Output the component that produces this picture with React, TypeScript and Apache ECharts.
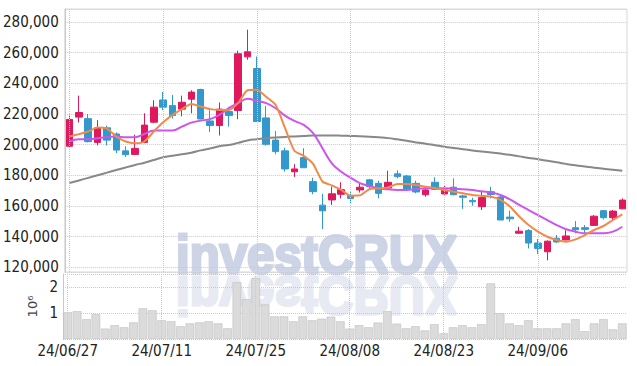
import React, { useEffect, useRef } from "react";
import * as echarts from "echarts";

const dates = [
  "24/06/27", "24/06/28", "24/07/01", "24/07/02", "24/07/03", "24/07/04", "24/07/05", "24/07/08", "24/07/09", "24/07/10",
  "24/07/11", "24/07/12", "24/07/15", "24/07/16", "24/07/17", "24/07/18", "24/07/19", "24/07/22", "24/07/23", "24/07/24",
  "24/07/25", "24/07/26", "24/07/29", "24/07/30", "24/07/31", "24/08/01", "24/08/02", "24/08/05", "24/08/06", "24/08/07",
  "24/08/08", "24/08/09", "24/08/12", "24/08/13", "24/08/14", "24/08/16", "24/08/19", "24/08/20", "24/08/21", "24/08/22",
  "24/08/23", "24/08/26", "24/08/27", "24/08/28", "24/08/29", "24/08/30", "24/09/02", "24/09/03", "24/09/04", "24/09/05",
  "24/09/06", "24/09/09", "24/09/10", "24/09/11", "24/09/12", "24/09/13", "24/09/19", "24/09/20", "24/09/23", "24/09/24",
];

const opens = [
  199000, 218000, 217000, 201500, 211000, 207000, 196000, 193700, 201500, 214700,
  229200, 225500, 223200, 229700, 236000, 215500, 212500, 221600, 222300, 257300,
  249700, 217500, 203000, 196000, 182400, 191600, 175900, 160600, 164000, 167700,
  166900, 170500, 177100, 174800, 171700, 181000, 179600, 174800, 167400, 175500,
  167900, 172300, 166600, 163700, 159600, 169300, 165900, 152800, 142300, 144000,
  135900, 130200, 139000, 137900, 145900, 145900, 147400, 157000, 152400, 158200,
];
const closes = [
  216500, 221000, 202000, 211000, 203000, 196500, 193500, 197600, 212800, 224500,
  224500, 219000, 227700, 234300, 216800, 212500, 223200, 219000, 259300, 260600,
  215100, 200300, 195500, 184200, 184200, 185000, 169400, 156900, 168000, 170700,
  165000, 172300, 172600, 168300, 175500, 179200, 170900, 169200, 170500, 170900,
  170500, 167400, 165700, 162800, 165500, 167500, 150900, 151700, 143600, 135900,
  132400, 137100, 136600, 140500, 144600, 144800, 153400, 152400, 156700, 163900,
];
const lows = [
  198000, 214500, 201500, 199500, 199500, 194500, 192000, 193500, 201000, 214000,
  222500, 217000, 218500, 220500, 216500, 208300, 206000, 211800, 216600, 255400,
  215000, 199400, 193800, 182500, 179000, 185000, 167700, 145000, 160700, 165000,
  161600, 168800, 170500, 165000, 171300, 178100, 170500, 168300, 166100, 170500,
  167500, 167000, 158200, 160200, 157400, 165000, 150900, 149800, 142000, 132400,
  128700, 124600, 136000, 137500, 142200, 141600, 147000, 151300, 150900, 158000,
];
const highs = [
  219500, 232000, 220000, 216000, 212500, 208000, 199000, 206500, 220500, 229000,
  234500, 232500, 232000, 235500, 236500, 222500, 227500, 224700, 261300, 275000,
  257500, 225300, 209000, 198000, 187300, 197700, 178500, 168000, 172700, 175500,
  169300, 174800, 177700, 176500, 183100, 183300, 180300, 176500, 173100, 178800,
  173100, 178100, 167400, 165500, 170000, 172600, 166600, 157000, 146500, 145000,
  138500, 137600, 141100, 144200, 150200, 147600, 154100, 157400, 157400, 165000,
];

const maShort = [
  205300, 206900, 208600, 211200, 210500, 205300, 202100, 201000, 202100, 208600,
  214600, 219500, 223200, 226500, 224900, 223200, 222700, 222700, 227300, 235500,
  235800, 231200, 226000, 211000, 196100, 192700, 187500, 176000, 173500, 170500,
  166800, 167000, 171000, 171500, 172200, 174400, 174400, 173700, 172600, 171800,
  170500, 169400, 168300, 167200, 166600, 166100, 164100, 159700, 153200, 147600,
  143300, 140000, 137900, 136800, 138300, 141100, 144400, 147000, 150900, 154600,
];
const maMid = [
  202100, 203600, 203600, 204200, 204900, 205300, 204900, 204900, 207000, 209200,
  209200, 209200, 211800, 214400, 215700, 216700, 219500, 223800, 227100, 229900,
  228600, 227100, 223800, 219000, 215500, 212900, 207500, 197700, 187900, 182400,
  178500, 175000, 173100, 171600, 170900, 170500, 170500, 171100, 171600, 171600,
  171600, 171300, 170900, 170500, 169600, 169000, 167200, 164400, 160700, 157400,
  154100, 150900, 147600, 144900, 143300, 142200, 142200, 142200, 143300, 146500,
];
const maLong = [
  175000, 176700, 178400, 180100, 181800, 183500, 185200, 186800, 188300, 190000,
  191800, 192800, 193800, 194800, 196300, 197500, 199000, 199800, 201200, 202800,
  203600, 204200, 204700, 205100, 205400, 205700, 206000, 206000, 206000, 205900,
  205700, 205500, 205200, 204800, 204300, 203500, 202600, 201500, 200700, 199700,
  198700, 197900, 197100, 196300, 195500, 194900, 194200, 193400, 192400, 191400,
  190500, 189500, 188500, 187500, 186600, 185800, 185000, 184300, 183600, 183000,
];

const volumes = [
  1030000, 1070000, 760000, 950000, 400000, 530000, 450000, 640000, 1180000, 1100000,
  720000, 680000, 490000, 600000, 640000, 680000, 600000, 410000, 2180000, 1530000,
  2340000, 1330000, 870000, 870000, 680000, 870000, 720000, 780000, 860000, 680000,
  400000, 530000, 450000, 630000, 1070000, 590000, 410000, 490000, 330000, 570000,
  220000, 450000, 530000, 450000, 570000, 2140000, 990000, 600000, 530000, 720000,
  410000, 410000, 410000, 600000, 760000, 300000, 600000, 760000, 370000, 600000,
];

const gridDateIdx = [0, 10, 20, 30, 40, 50];

const UP = "#e0195f";
const DOWN = "#3399cc";
const FONT = '"Liberation Sans Narrow", "DejaVu Sans Condensed", sans-serif';
const GRID_LINE = "#c5c9d6";

export default function App() {
  const ref = useRef<HTMLDivElement>(null);
  useEffect(() => {
    if (!ref.current) return;
    const chart = echarts.init(ref.current, undefined, { renderer: "svg" });
    const vLines = gridDateIdx.map((i) => ({ xAxis: dates[i] }));
    const markLine = {
      silent: true,
      symbol: ["none", "none"],
      label: { show: false },
      lineStyle: { type: "dotted", color: GRID_LINE, width: 1 },
      data: vLines,
    };
    const wmBase = {
      text: "investCRUX",
      fontFamily: '"Liberation Sans", Arial, sans-serif',
      fontWeight: "bold",
      fontSize: 54,
      lineWidth: 3,
      verticalAlign: "middle",
      align: "left",
    };
    chart.setOption({
      animation: false,
      grid: [
        { left: 63, right: 10, top: 9, height: 263, show: true, borderColor: "#d9d9d9", borderWidth: 1, backgroundColor: "transparent" },
        { left: 63, right: 10, top: 274, height: 65 },
      ],
      xAxis: [
        {
          type: "category", gridIndex: 0, data: dates, boundaryGap: true,
          axisLine: { show: false }, axisTick: { show: false }, axisLabel: { show: false }, splitLine: { show: false },
        },
        {
          type: "category", gridIndex: 1, data: dates, boundaryGap: true,
          axisLine: { show: false }, axisTick: { show: false }, splitLine: { show: false },
          axisLabel: { interval: 9, margin: 4, fontSize: 15, color: "#222", fontFamily: FONT },
        },
      ],
      yAxis: [
        {
          type: "value", gridIndex: 0, min: 117000, max: 288500, splitNumber: 8,
          axisLine: { show: true, lineStyle: { color: "#c8c8c8" } }, axisTick: { show: false },
          axisLabel: {
            showMinLabel: false, showMaxLabel: false, margin: 6, fontSize: 15, color: "#222", fontFamily: FONT,
            formatter: (v: number) => String(v).replace(/\B(?=(\d{3})+(?!\d))/g, ","),
          },
          splitLine: { lineStyle: { type: "dotted", color: GRID_LINE } },
        },
        {
          type: "value", gridIndex: 1, min: 0, max: 2500000, interval: 1000000,
          name: "10⁶", nameLocation: "middle", nameRotate: 90, nameGap: 21,
          nameTextStyle: { fontSize: 13, color: "#444", fontFamily: '"DejaVu Sans", sans-serif' },
          axisLine: { show: true, lineStyle: { color: "#c8c8c8" } }, axisTick: { show: false },
          axisLabel: {
            showMinLabel: false, showMaxLabel: false, margin: 5, fontSize: 15, color: "#222", fontFamily: FONT,
            formatter: (v: number) => String(v / 1000000),
          },
          splitLine: { lineStyle: { type: "dotted", color: GRID_LINE } },
        },
      ],
      graphic: [
        {
          type: "text", x: 176, y: 254, scaleX: 0.91, z: -10, silent: true,
          style: { ...wmBase, fill: "#cdd4e6", stroke: "#cdd4e6" },
        },
        {
          type: "text", x: 176, y: 296, scaleX: 0.91, scaleY: -1, z: -10, silent: true,
          style: { ...wmBase, fill: "#e7eaf2", stroke: "#e7eaf2" },
        },
      ],
      series: [
        { type: "line", xAxisIndex: 0, yAxisIndex: 0, data: [], z: 1, markLine },
        { type: "line", xAxisIndex: 1, yAxisIndex: 1, data: [], z: 1, markLine },
        {
          type: "bar", xAxisIndex: 1, yAxisIndex: 1, data: volumes, barCategoryGap: "8%",
          itemStyle: { color: "#d9d9d9", borderColor: "#bdbdbd", borderWidth: 0.6, opacity: 0.95 }, z: 2,
        },
        {
          type: "candlestick", xAxisIndex: 0, yAxisIndex: 0, barWidth: 7,
          data: opens.map((o, i) => [o, closes[i], lows[i], highs[i]]),
          itemStyle: { color: UP, color0: DOWN, borderColor: UP, borderColor0: DOWN, borderWidth: 1 },
          z: 3,
        },
        { type: "line", xAxisIndex: 0, yAxisIndex: 0, data: maLong, showSymbol: false, smooth: true, lineStyle: { color: "#888888", width: 2 }, z: 4 },
        { type: "line", xAxisIndex: 0, yAxisIndex: 0, data: maMid, showSymbol: false, smooth: 0.4, lineStyle: { color: "#cc55ee", width: 2 }, z: 4 },
        { type: "line", xAxisIndex: 0, yAxisIndex: 0, data: maShort, showSymbol: false, smooth: 0.2, lineStyle: { color: "#f08a4b", width: 2 }, z: 5 },
      ],
    });
    return () => chart.dispose();
  }, []);
  return <div ref={ref} style={{ width: 637, height: 366, position: "absolute", left: 0, top: 0 }} />;
}
